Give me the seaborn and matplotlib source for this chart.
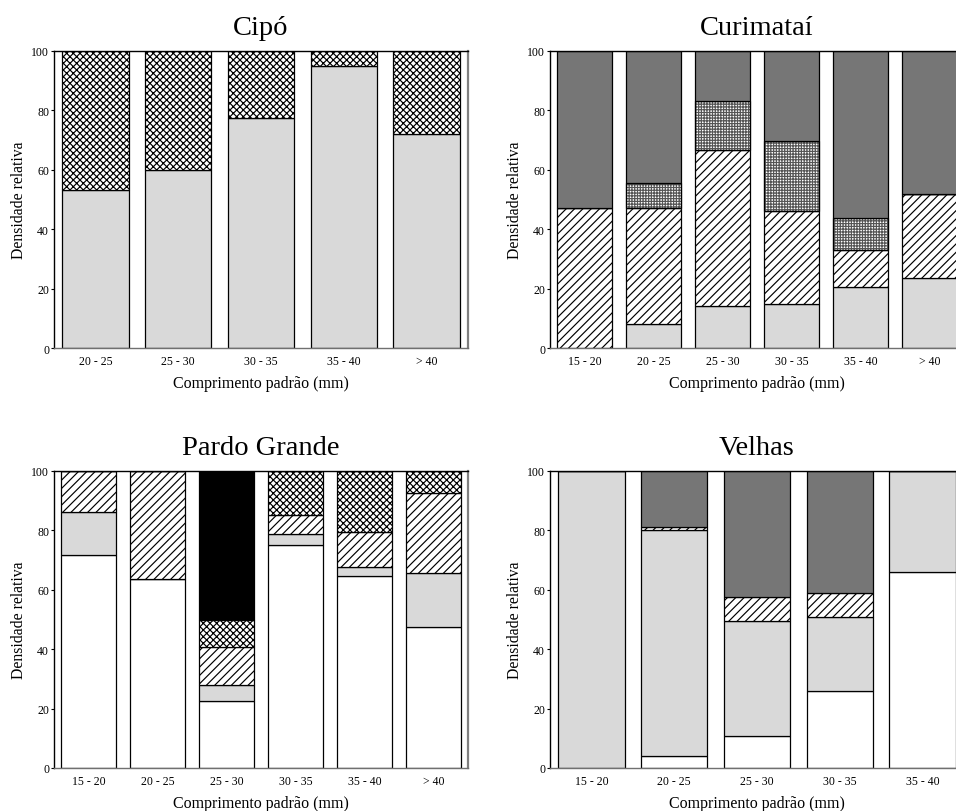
import numpy as np
import pandas as pd
import matplotlib
matplotlib.use("Agg")
import matplotlib.pyplot as plt
import seaborn as sns

sns.set_theme(style="white")
plt.rcParams["font.family"] = ["Liberation Serif", "DejaVu Serif"]
plt.rcParams["hatch.linewidth"] = 0.85
for key in ("text.color", "axes.labelcolor", "xtick.color", "ytick.color"):
    plt.rcParams[key] = "black"

# ---- relative density (%) per standard-length class, one list per stacked layer ----
cipo_classes = ["20 - 25", "25 - 30", "30 - 35", "35 - 40", "> 40"]
cipo_light = [53.1, 59.8, 77.4, 95.1, 71.9]
cipo_cross = [46.9, 40.2, 22.6, 4.9, 28.1]

curi_classes = ["15 - 20", "20 - 25", "25 - 30", "30 - 35", "35 - 40", "> 40"]
curi_light = [0.0, 8.1, 14.0, 14.8, 20.7, 23.5]
curi_diag = [47.0, 39.1, 52.5, 31.2, 12.3, 28.5]
curi_grid = [0.0, 8.5, 16.8, 23.8, 10.9, 0.0]
curi_dark = [53.0, 44.3, 16.7, 30.2, 56.1, 48.0]

pardo_classes = ["15 - 20", "20 - 25", "25 - 30", "30 - 35", "35 - 40", "> 40"]
pardo_white = [71.8, 63.6, 22.6, 75.0, 64.5, 47.5]
pardo_light = [14.5, 0.0, 5.3, 3.8, 3.1, 18.2]
pardo_diag = [13.7, 36.4, 12.7, 6.4, 11.7, 26.9]
pardo_cross = [0.0, 0.0, 9.3, 14.8, 20.7, 7.4]
pardo_black = [0.0, 0.0, 50.1, 0.0, 0.0, 0.0]

velhas_classes = ["15 - 20", "20 - 25", "25 - 30", "30 - 35", "35 - 40"]
velhas_white = [0.0, 3.9, 10.7, 25.8, 65.9]
velhas_light = [100.0, 76.2, 38.8, 25.0, 34.1]
velhas_diag = [0.0, 1.0, 8.0, 8.1, 0.0]
velhas_dark = [0.0, 18.9, 42.5, 41.1, 0.0]

# ---- fill styles of the stacked layers ----
# "hatch_edge" is the colour the hatch lines take; the outline is drawn in black
WHITE = dict(color="white")
LIGHT = dict(color="#d9d9d9")
DARK = dict(color="#767676")
BLACK = dict(color="black")
DIAG = dict(color="white", hatch="////")
CROSS = dict(color="white", hatch="xxxxx")
GRID = dict(color="white", hatch="++++++", hatch_edge="#555555")


def stacked(ax, classes, layers, title):
    base = np.zeros(len(classes))
    for values, style in layers:
        style = dict(style)
        hatch_edge = style.pop("hatch_edge", "black")
        df = pd.DataFrame({"classe": classes, "valor": values})
        common = dict(data=df, x="classe", y="valor", order=classes,
                      bottom=base.copy(), ax=ax, errorbar=None, saturation=1,
                      width=0.8)
        sns.barplot(**common, edgecolor=hatch_edge, linewidth=0.9, **style)
        if hatch_edge != "black":
            # black outline on top of the lighter hatch lines
            sns.barplot(**common, color="black", fill=False, linewidth=0.9)
        base += np.asarray(values, dtype=float)
    ax.set_xlim(-0.5, len(classes) - 0.5)
    ax.set_ylim(0, 100)
    ax.set_yticks([0, 20, 40, 60, 80, 100])
    ax.set_title(title, fontsize=20.5, pad=12)
    ax.set_xlabel("Comprimento padrão (mm)", fontsize=11.5, labelpad=6)
    ax.set_ylabel("Densidade relativa", fontsize=11.3, labelpad=3)
    ax.tick_params(axis="y", direction="out", length=2, width=0.8, pad=1.5,
                   labelsize=8.5, colors="black", left=True)
    ax.tick_params(axis="x", length=0, pad=5, labelsize=8.5, colors="black")
    for side in ("left", "top"):
        ax.spines[side].set_color("black")
        ax.spines[side].set_linewidth(1.0)
    ax.spines["bottom"].set_color("#707070")
    ax.spines["bottom"].set_linewidth(1.0)
    ax.spines["right"].set_color("#808080")
    ax.spines["right"].set_linewidth(1.6)


fig = plt.figure(figsize=(9.56, 8.12), dpi=100)
W, H = 414 / 956, 297 / 812
ax1 = fig.add_axes([54 / 956, 1 - 349 / 812, W, H])
ax2 = fig.add_axes([550 / 956, 1 - 349 / 812, W, H])
ax3 = fig.add_axes([54 / 956, 1 - 769 / 812, W, H])
ax4 = fig.add_axes([550 / 956, 1 - 769 / 812, W, H])

stacked(ax1, cipo_classes, [(cipo_light, LIGHT), (cipo_cross, CROSS)], "Cipó")
stacked(ax2, curi_classes, [(curi_light, LIGHT), (curi_diag, DIAG),
                            (curi_grid, GRID), (curi_dark, DARK)], "Curimataí")
stacked(ax3, pardo_classes, [(pardo_white, WHITE), (pardo_light, LIGHT),
                             (pardo_diag, DIAG), (pardo_cross, CROSS),
                             (pardo_black, BLACK)], "Pardo Grande")
stacked(ax4, velhas_classes, [(velhas_white, WHITE), (velhas_light, LIGHT),
                              (velhas_diag, DIAG), (velhas_dark, DARK)], "Velhas")

fig.savefig("out.png", dpi=100, facecolor="white")
